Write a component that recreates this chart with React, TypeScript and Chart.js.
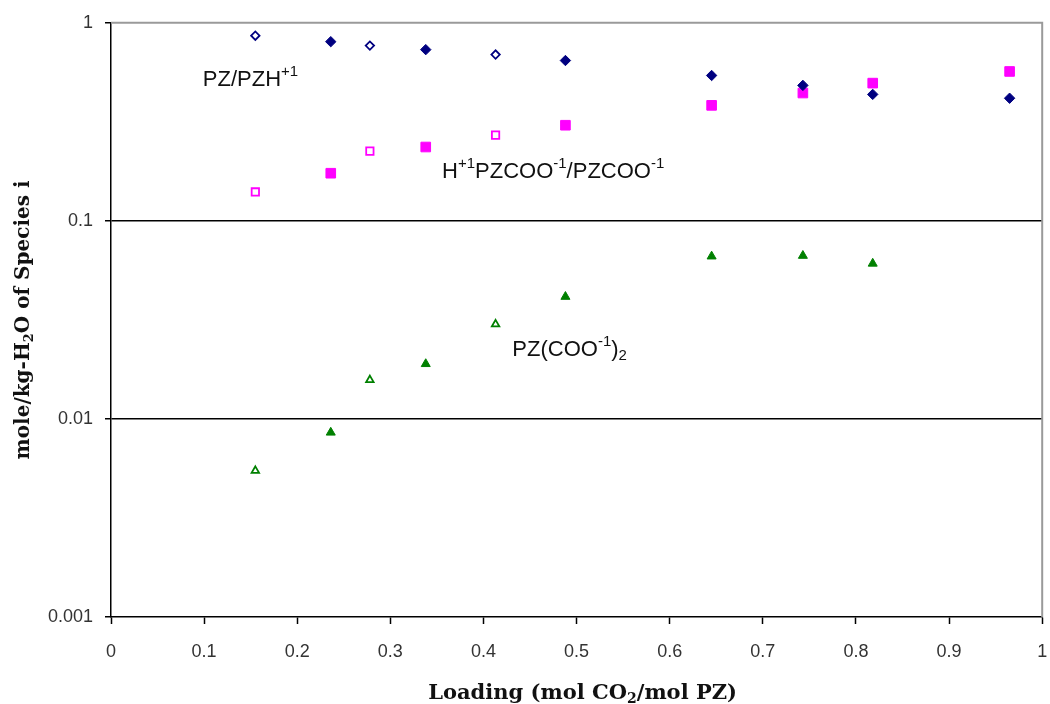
import React, { useEffect, useRef } from "react";
import { Chart, registerables } from "chart.js";

Chart.register(...registerables);

// CO2 loading (mol CO2 / mol PZ)
const loading = [0.155, 0.236, 0.278, 0.338, 0.413, 0.488, 0.645, 0.743, 0.818, 0.965];
// true = filled marker, false = open marker
const filledFlags = [false, true, false, true, false, true, true, true, true, true];
// PZ/PZH+1 (mole/kg-H2O)
const pzValues = [0.861, 0.803, 0.767, 0.732, 0.691, 0.645, 0.542, 0.483, 0.435, 0.416];
// H+1PZCOO-1/PZCOO-1
const carbamateValues = [0.14, 0.174, 0.225, 0.236, 0.271, 0.304, 0.383, 0.442, 0.496, 0.568];
// PZ(COO-1)2
const dicarbamateValues = [0.00548, 0.00854, 0.01574, 0.01895, 0.0301, 0.0414, 0.0662, 0.0667, 0.0609];

const yTickValues = [0.001, 0.01, 0.1, 1];
const yGridValues = [0.01, 0.1];

const NAVY = "#000080";
const MAGENTA = "#FF00FF";
const GREEN = "#008000";

type Run = { text: string; size: number; dy?: number; family: string; bold?: boolean };

const SANS = "'Liberation Sans', Arial, sans-serif";
const SERIF = "'DejaVu Serif', serif";

const pzLabel: Run[] = [
  { text: "PZ/PZH", size: 22, family: SANS },
  { text: "+1", size: 15, dy: -10, family: SANS },
];
const carbamateLabel: Run[] = [
  { text: "H", size: 22, family: SANS },
  { text: "+1", size: 15, dy: -10, family: SANS },
  { text: "PZCOO", size: 22, family: SANS },
  { text: "-1", size: 15, dy: -10, family: SANS },
  { text: "/PZCOO", size: 22, family: SANS },
  { text: "-1", size: 15, dy: -10, family: SANS },
];
const dicarbamateLabel: Run[] = [
  { text: "PZ(COO", size: 22, family: SANS },
  { text: "-1", size: 15, dy: -10, family: SANS },
  { text: ")", size: 22, family: SANS },
  { text: "2", size: 15, dy: 4, family: SANS },
];
const xTitle: Run[] = [
  { text: "Loading (mol CO", size: 21, family: SERIF, bold: true },
  { text: "2", size: 14, dy: 4, family: SERIF, bold: true },
  { text: "/mol PZ)", size: 21, family: SERIF, bold: true },
];
const yTitle: Run[] = [
  { text: "mole/kg-H", size: 20, family: SERIF, bold: true },
  { text: "2", size: 13, dy: 4, family: SERIF, bold: true },
  { text: "O of Species i", size: 20, family: SERIF, bold: true },
];

function runsWidth(ctx: CanvasRenderingContext2D, runs: Run[]) {
  let w = 0;
  for (const r of runs) {
    ctx.font = `${r.bold ? "bold " : ""}${r.size}px ${r.family}`;
    w += ctx.measureText(r.text).width;
  }
  return w;
}

function drawRuns(ctx: CanvasRenderingContext2D, x: number, y: number, runs: Run[]) {
  let cx = x;
  for (const r of runs) {
    ctx.font = `${r.bold ? "bold " : ""}${r.size}px ${r.family}`;
    ctx.fillText(r.text, cx, y + (r.dy || 0));
    cx += ctx.measureText(r.text).width;
  }
}

const decorPlugin = {
  id: "decor",
  beforeDatasetsDraw(chart: any) {
    const { ctx, chartArea } = chart;
    ctx.save();
    ctx.strokeStyle = "#9a9a9a";
    ctx.lineWidth = 2;
    ctx.beginPath();
    ctx.moveTo(chartArea.left, chartArea.top);
    ctx.lineTo(chartArea.right, chartArea.top);
    ctx.lineTo(chartArea.right, chartArea.bottom);
    ctx.stroke();
    ctx.restore();
  },
  afterDraw(chart: any) {
    const { ctx, chartArea } = chart;
    const xs = chart.scales.x;
    const ys = chart.scales.y;
    ctx.save();
    ctx.fillStyle = "#111";
    ctx.textBaseline = "alphabetic";
    ctx.textAlign = "left";
    // series annotations (anchored in data coordinates)
    drawRuns(ctx, xs.getPixelForValue(0.0986), ys.getPixelForValue(0.477), pzLabel);
    drawRuns(ctx, xs.getPixelForValue(0.3555), ys.getPixelForValue(0.165), carbamateLabel);
    drawRuns(ctx, xs.getPixelForValue(0.431), ys.getPixelForValue(0.02085), dicarbamateLabel);
    // x title
    const xw = runsWidth(ctx, xTitle);
    const xc = (chartArea.left + chartArea.right) / 2 + 6;
    drawRuns(ctx, xc - xw / 2, 699, xTitle);
    // y title
    const yw = runsWidth(ctx, yTitle);
    const yc = (chartArea.top + chartArea.bottom) / 2;
    ctx.translate(29, yc);
    ctx.rotate(-Math.PI / 2);
    drawRuns(ctx, -yw / 2, 0, yTitle);
    ctx.restore();
  },
};

function pointStyleArrays(filledColor: string, filledR: number, openR: number, n: number) {
  const flags = filledFlags.slice(0, n);
  return {
    pointBackgroundColor: flags.map((f) => (f ? filledColor : "#ffffff")),
    pointBorderColor: flags.map(() => filledColor),
    pointBorderWidth: flags.map((f) => (f ? 1 : 1.8)),
    pointRadius: flags.map((f) => (f ? filledR : openR)),
  };
}

export default function App() {
  const canvasRef = useRef<HTMLCanvasElement | null>(null);

  useEffect(() => {
    const canvas = canvasRef.current;
    if (!canvas) return;
    const toPoints = (vals: number[]) => vals.map((v, i) => ({ x: loading[i], y: v }));

    const chart = new Chart(canvas, {
      type: "scatter",
      data: {
        datasets: [
          {
            label: "PZ/PZH+1",
            data: toPoints(pzValues),
            pointStyle: "rectRot",
            showLine: false,
            ...pointStyleArrays(NAVY, 5.2, 4.2, pzValues.length),
          },
          {
            label: "H+1PZCOO-1/PZCOO-1",
            data: toPoints(carbamateValues),
            pointStyle: "rect",
            showLine: false,
            ...pointStyleArrays(MAGENTA, 6.8, 5.2, carbamateValues.length),
          },
          {
            label: "PZ(COO-1)2",
            data: toPoints(dicarbamateValues),
            pointStyle: "triangle",
            showLine: false,
            ...pointStyleArrays(GREEN, 5.2, 4.3, dicarbamateValues.length),
          },
        ] as any,
      },
      options: {
        animation: false,
        responsive: false,
        devicePixelRatio: 1,
        layout: { padding: { left: 0, right: 6, top: 20, bottom: 0 } },
        plugins: {
          legend: { display: false },
          tooltip: { enabled: false },
        },
        scales: {
          x: {
            type: "linear",
            min: 0,
            max: 1,
            ticks: {
              stepSize: 0.1,
              color: "#333",
              font: { family: SANS, size: 18 },
              padding: 17,
              maxRotation: 0,
              callback: (v: any) => String(Math.round(Number(v) * 10) / 10),
            },
            grid: {
              drawOnChartArea: false,
              tickLength: 7,
              tickColor: "#000",
              tickWidth: 1.5,
            },
            border: { display: true, color: "#000", width: 1.5 },
            afterFit: (scale: any) => {
              scale.height = 87;
              scale.paddingLeft = 0;
              scale.paddingRight = 0;
            },
          },
          y: {
            type: "logarithmic",
            min: 0.001,
            max: 1,
            afterBuildTicks: (scale: any) => {
              scale.ticks = yTickValues.map((v) => ({ value: v }));
            },
            ticks: {
              color: "#333",
              font: { family: SANS, size: 18 },
              padding: 12,
              callback: (v: any) => String(Number(v)),
            },
            grid: {
              color: (c: any) =>
                c.tick && yGridValues.includes(c.tick.value) ? "#000" : "rgba(0,0,0,0)",
              lineWidth: 1.5,
              tickLength: 6,
              tickColor: "#000",
              tickWidth: 1.5,
            },
            border: { display: true, color: "#000", width: 1.5 },
            afterFit: (scale: any) => {
              scale.width = 111;
            },
          },
        },
      } as any,
      plugins: [decorPlugin],
    });
    return () => chart.destroy();
  }, []);

  return (
    <div style={{ position: "absolute", left: 0, top: 0, width: 1050, height: 704, background: "#fff" }}>
      <canvas ref={canvasRef} width={1050} height={704} style={{ display: "block" }} />
    </div>
  );
}
